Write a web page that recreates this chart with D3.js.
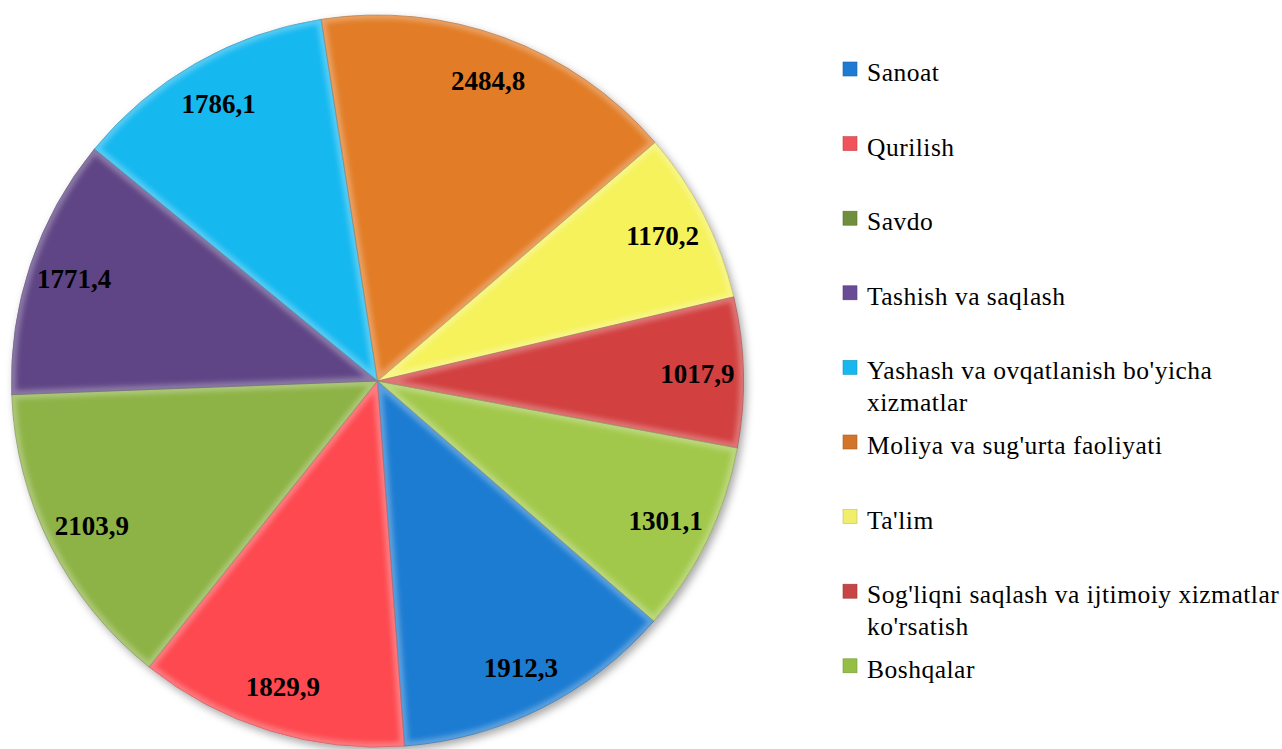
<!DOCTYPE html>
<html>
<head>
<meta charset="utf-8">
<script src="https://cdn.jsdelivr.net/npm/d3@7/dist/d3.min.js"></script>
<style>
  html, body { margin: 0; padding: 0; background: #fff; }
  svg { display: block; }
</style>
</head>
<body>
<svg id="chart" width="1282" height="749"></svg>
<script>
// ---- data ----
const categories = [
  "Sanoat",
  "Qurilish",
  "Savdo",
  "Tashish va saqlash",
  "Yashash va ovqatlanish bo'yicha xizmatlar",
  "Moliya va sug'urta faoliyati",
  "Ta'lim",
  "Sog'liqni saqlash va ijtimoiy xizmatlar ko'rsatish",
  "Boshqalar"
];
const values = [1912.3, 1829.9, 2103.9, 1771.4, 1786.1, 2484.8, 1170.2, 1017.9, 1301.1];
const valueLabels = ["1912,3", "1829,9", "2103,9", "1771,4", "1786,1", "2484,8", "1170,2", "1017,9", "1301,1"];
const colors = ["#1f7bd2", "#fd4a50", "#8db244", "#5f4585", "#17b8f0", "#e27c28", "#f5f25c", "#d24141", "#a2c84c"];
const legendColors = ["#1f7bd2", "#f0545a", "#6f8f3c", "#6a4c96", "#17b8f0", "#d2742a", "#f0ee6a", "#c84545", "#93bf45"];

// ---- layout ----
const svg = d3.select("#chart");
const cx = 377.5, cy = 381, R = 366;
const labelR = 320;
const start = 131 * Math.PI / 180;
const serif = "Liberation Serif";

const defs = svg.append("defs");
const shadow = defs.append("filter").attr("id", "shadow")
  .attr("x", "-10%").attr("y", "-10%").attr("width", "120%").attr("height", "120%");
shadow.append("feDropShadow").attr("dx", 3).attr("dy", 4).attr("stdDeviation", 4)
  .attr("flood-color", "#000").attr("flood-opacity", 0.35);
const blur = defs.append("filter").attr("id", "soft");
blur.append("feGaussianBlur").attr("stdDeviation", 2.5);

const pie = d3.pie().sort(null).value(d => d)
  .startAngle(start).endAngle(start + 2 * Math.PI);
const arcs = pie(values);
const arc = d3.arc().innerRadius(0).outerRadius(R);
const labelArc = d3.arc().innerRadius(labelR).outerRadius(labelR);

const g = svg.append("g").attr("transform", `translate(${cx},${cy})`);
const slices = g.append("g").attr("filter", "url(#shadow)");

slices.selectAll("path.slice")
  .data(arcs)
  .enter().append("path")
  .attr("class", "slice")
  .attr("d", arc)
  .attr("fill", (d, i) => colors[i]);

// bevel-like highlight along each slice edge
arcs.forEach((d, i) => {
  defs.append("clipPath").attr("id", "clip" + i)
    .append("path").attr("d", arc(d)).attr("transform", `translate(${cx},${cy})`);
});
const bevel = svg.append("g");
arcs.forEach((d, i) => {
  const cg = bevel.append("g").attr("clip-path", `url(#clip${i})`);
  cg.append("path")
    .attr("transform", `translate(${cx},${cy})`)
    .attr("d", arc(d))
    .attr("fill", "none")
    .attr("stroke", "#ffffff")
    .attr("stroke-opacity", 0.28)
    .attr("stroke-width", 9)
    .attr("filter", "url(#soft)");
});
g.append("g").selectAll("path")
  .data(arcs)
  .enter().append("path")
  .attr("d", arc)
  .attr("fill", "none")
  .attr("stroke", (d, i) => d3.color(colors[i]).darker(1.2))
  .attr("stroke-opacity", 0.55)
  .attr("stroke-width", 1);

// value labels
g.append("g").selectAll("text")
  .data(arcs)
  .enter().append("text")
  .attr("transform", d => `translate(${labelArc.centroid(d)})`)
  .attr("text-anchor", "middle")
  .attr("dy", "0.35em")
  .style("font-family", serif)
  .style("font-weight", "bold")
  .style("font-size", "27px")
  .attr("fill", "#000")
  .text((d, i) => valueLabels[i]);

// legend
const legX = 843, textX = 867, firstBase = 81, step = 74.6, lineH = 32, maxW = 425;
const leg = svg.append("g");
categories.forEach((name, i) => {
  const base = firstBase + i * step;
  leg.append("rect")
    .attr("x", legX).attr("y", base - 19)
    .attr("width", 14).attr("height", 14)
    .attr("fill", legendColors[i])
    .attr("stroke", d3.color(legendColors[i]).darker(0.6))
    .attr("stroke-width", 0.6);
  const t = leg.append("text")
    .attr("x", textX).attr("y", base)
    .style("font-family", serif)
    .style("font-size", "25.5px")
    .style("letter-spacing", "0.5px")
    .attr("fill", "#000");
  const words = name.split(" ");
  let line = [];
  let tspan = t.append("tspan").attr("x", textX).attr("y", base);
  let lineNo = 0;
  words.forEach(w => {
    line.push(w);
    tspan.text(line.join(" "));
    if (tspan.node().getComputedTextLength() > maxW && line.length > 1) {
      line.pop();
      tspan.text(line.join(" "));
      line = [w];
      lineNo++;
      tspan = t.append("tspan").attr("x", textX).attr("y", base + lineNo * lineH).text(w);
    }
  });
});
</script>
</body>
</html>
